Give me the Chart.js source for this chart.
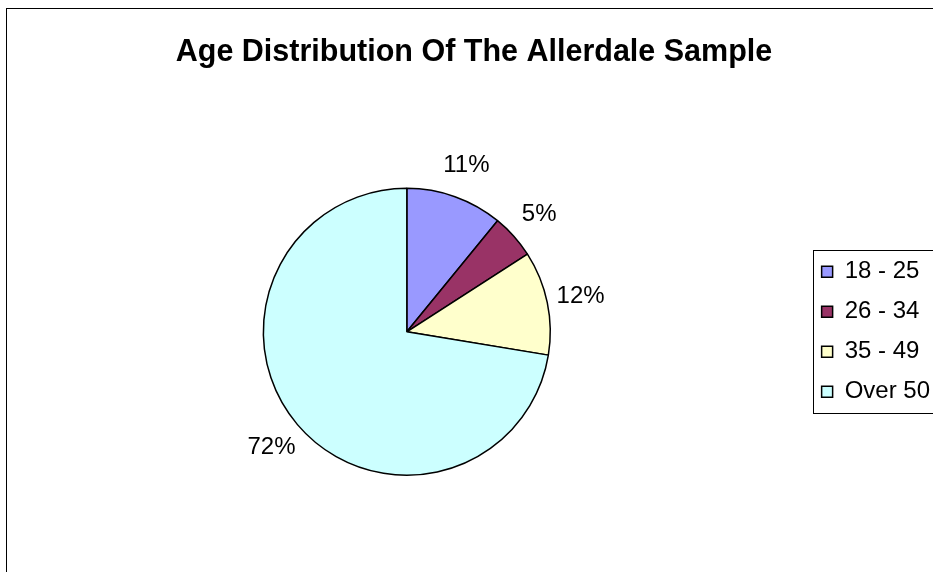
<!DOCTYPE html>
<html>
<head>
<meta charset="utf-8">
<title>Age Distribution Of The Allerdale Sample</title>
<script src="https://cdn.jsdelivr.net/npm/chart.js@4.4.1/dist/chart.umd.min.js"></script>
<style>
  html, body { margin: 0; padding: 0; background: #fff; }
  canvas { display: block; }
</style>
</head>
<body>
<canvas id="ageChart" width="933" height="572"></canvas>
<script>
const chartTitle = 'Age Distribution Of The Allerdale Sample';
const ageGroups = ['18 - 25', '26 - 34', '35 - 49', 'Over 50'];
const sharePercent = [10.9, 5.0, 11.7, 72.4];
const sliceColours = ['#9999FF', '#993366', '#FFFFCC', '#CCFFFF'];

const fontFamily = '"Liberation Sans", Arial, sans-serif';

// white page and thin frame round the whole chart
const framePlugin = {
    id: 'frame',
    beforeDraw(chart) {
        const ctx = chart.ctx;
        ctx.save();
        ctx.fillStyle = '#fff';
        ctx.fillRect(0, 0, chart.width, chart.height);
        ctx.strokeStyle = '#000';
        ctx.lineWidth = 1;
        ctx.strokeRect(6.5, 8.5, chart.width + 20, chart.height + 20);
        ctx.restore();
    }
};

// percent labels just outside each slice
const outsideLabels = {
    id: 'outsideLabels',
    afterDatasetsDraw(chart) {
        const ctx = chart.ctx;
        const meta = chart.getDatasetMeta(0);
        const values = chart.data.datasets[0].data;
        const total = values.reduce((a, b) => a + b, 0);
        ctx.save();
        ctx.font = '24px ' + fontFamily;
        ctx.fillStyle = '#000';
        ctx.textAlign = 'center';
        ctx.textBaseline = 'middle';
        meta.data.forEach((arc, i) => {
            const p = arc.getProps(['x', 'y', 'startAngle', 'endAngle', 'outerRadius'], true);
            const mid = (p.startAngle + p.endAngle) / 2;
            const dist = p.outerRadius + 34;
            const text = Math.round(values[i] / total * 100) + '%';
            ctx.fillText(text, p.x + Math.cos(mid) * dist, p.y + Math.sin(mid) * dist + 1);
        });
        ctx.restore();
    }
};

// border round the legend, it runs off the right edge like the original
const legendBox = {
    id: 'legendBox',
    afterDraw(chart) {
        const boxes = chart.legend && chart.legend.legendHitBoxes;
        if (!boxes || !boxes.length) return;
        const first = boxes[0];
        const last = boxes[boxes.length - 1];
        const ctx = chart.ctx;
        const left = Math.round(first.left - 9) + 0.5;
        const top = Math.round(first.top - 10) + 0.5;
        const bottom = Math.round(last.top + last.height + 9) + 0.5;
        ctx.save();
        ctx.strokeStyle = '#000';
        ctx.lineWidth = 1;
        ctx.strokeRect(left, top, chart.width + 20 - left, bottom - top);
        ctx.restore();
    }
};

const ctx = document.getElementById('ageChart').getContext('2d');

new Chart(ctx, {
    type: 'pie',
    data: {
        labels: ageGroups,
        datasets: [{
            data: sharePercent,
            backgroundColor: sliceColours,
            borderColor: '#000',
            borderWidth: 1.5
        }]
    },
    options: {
        responsive: false,
        animation: false,
        layout: {
            padding: { left: 8, right: -7, top: 34, bottom: 96 }
        },
        plugins: {
            title: {
                display: true,
                text: chartTitle,
                color: '#000',
                font: { family: fontFamily, size: 30.5, weight: 'bold' },
                padding: { top: 0, bottom: 117 }
            },
            legend: {
                position: 'right',
                fullSize: false,
                labels: {
                    color: '#000',
                    boxWidth: 11,
                    boxHeight: 11,
                    padding: 16,
                    font: { family: fontFamily, size: 24 }
                }
            },
            tooltip: { enabled: false }
        }
    },
    plugins: [framePlugin, outsideLabels, legendBox]
});
</script>
</body>
</html>
